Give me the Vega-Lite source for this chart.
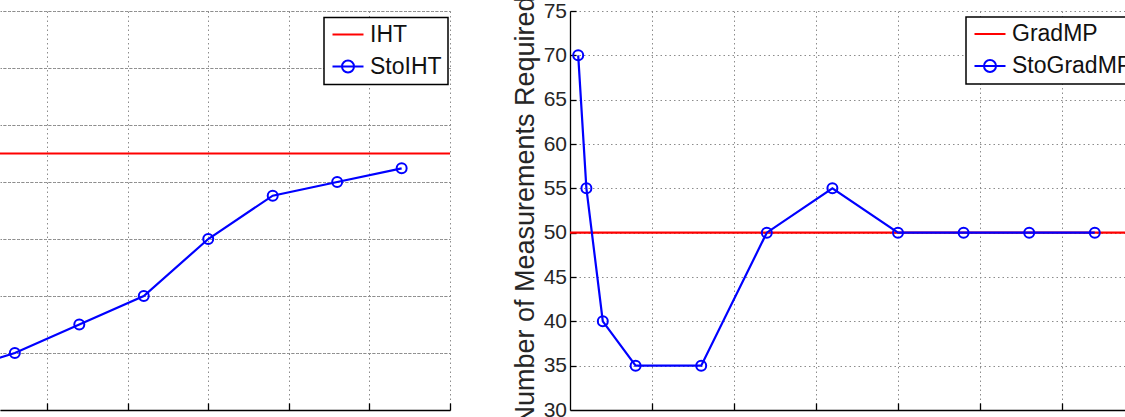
{
  "$schema": "https://vega.github.io/schema/vega-lite/v6.json",
  "padding": {"left": 0, "top": -5, "right": -20, "bottom": -7},
  "spacing": 60,
  "datasets": {
    "iht": [
      {"x": 0, "y": 325, "series": "IHT"},
      {"x": 70, "y": 325, "series": "IHT"}
    ],
    "stoiht": [
      {"x": 8, "y": 132, "series": "StoIHT"},
      {"x": 16, "y": 150, "series": "StoIHT"},
      {"x": 24, "y": 175, "series": "StoIHT"},
      {"x": 32, "y": 200, "series": "StoIHT"},
      {"x": 40, "y": 250, "series": "StoIHT"},
      {"x": 48, "y": 288, "series": "StoIHT"},
      {"x": 56, "y": 300, "series": "StoIHT"},
      {"x": 64, "y": 312, "series": "StoIHT"}
    ],
    "gradmp": [
      {"x": 0, "y": 50, "series": "GradMP"},
      {"x": 70, "y": 50, "series": "GradMP"}
    ],
    "stogradmp": [
      {"x": 1, "y": 70, "series": "StoGradMP"},
      {"x": 2, "y": 55, "series": "StoGradMP"},
      {"x": 4, "y": 40, "series": "StoGradMP"},
      {"x": 8, "y": 35, "series": "StoGradMP"},
      {"x": 16, "y": 35, "series": "StoGradMP"},
      {"x": 24, "y": 50, "series": "StoGradMP"},
      {"x": 32, "y": 55, "series": "StoGradMP"},
      {"x": 40, "y": 50, "series": "StoGradMP"},
      {"x": 48, "y": 50, "series": "StoGradMP"},
      {"x": 56, "y": 50, "series": "StoGradMP"},
      {"x": 64, "y": 50, "series": "StoGradMP"}
    ]
  },
  "resolve": {"scale": {"color": "independent", "x": "independent", "y": "independent"}, "legend": {"color": "independent"}},
  "config": {
    "view": {"stroke": null},
    "font": "Liberation Sans",
    "axis": {
      "gridColor": "#8c8c8c",
      "gridDash": [1.5, 3],
      "gridWidth": 1,
      "gridOpacity": 1,
      "domainColor": "#000000",
      "domainWidth": 1.3,
      "tickColor": "#000000",
      "tickWidth": 1.3,
      "labelFont": "Liberation Sans",
      "labelFontSize": 21,
      "labelColor": "#262626",
      "titleFont": "Liberation Sans",
      "titleFontWeight": "normal",
      "titleColor": "#262626"
    },
    "legend": {
      "orient": "none",
      "strokeColor": "#000000",
      "fillColor": "#ffffff",
      "padding": 5.5,
      "rowPadding": 8,
      "symbolSize": 400,
      "symbolStrokeWidth": 2,
      "symbolOffset": 7,
      "labelOffset": 10.5,
      "labelFont": "Liberation Sans",
      "labelFontSize": 23,
      "labelColor": "#111111",
      "labelLimit": 400
    }
  },
  "hconcat": [
    {
      "width": 450,
      "height": 399,
      "resolve": {"axis": {"x": "independent", "y": "independent"}},
      "encoding": {
        "y": {"field": "y", "type": "quantitative",
              "scale": {"domain": [100, 450], "nice": false, "zero": false},
              "axis": {"values": [100, 150, 200, 250, 300, 350, 400, 450], "labels": false, "ticks": false, "domain": false, "title": null, "grid": true}},
        "color": {"field": "series", "type": "nominal",
                  "scale": {"domain": ["IHT", "StoIHT"], "range": ["#ff0000", "#0000ff"]},
                  "legend": {"title": null, "legendX": 324, "legendY": 6.5,
                             "encode": {
                               "legend": {"update": {"strokeWidth": {"value": 1.5}}},
                               "symbols": {"update": {
                                 "shape": {"signal": "datum.value === 'IHT' ? 'M-1.55,0H1.55' : 'M-1.55,0H1.55M-0.6,0A0.6,0.6,0,1,1,0.6,0A0.6,0.6,0,1,1,-0.6,0'"},
                                 "fill": {"value": "transparent"},
                                 "strokeWidth": {"value": 2}
                               }}
                             }}}
      },
      "layer": [
        {"data": {"name": "iht"}, "mark": {"type": "line", "strokeWidth": 2.2, "clip": true},
         "encoding": {"x": {"field": "x", "type": "quantitative",
              "scale": {"domain": [14.16, 70], "nice": false, "zero": false},
              "axis": {"orient": "bottom", "values": [20, 30, 40, 50, 60, 70], "labels": false, "title": null, "ticks": false, "grid": true}}}},
        {"data": {"name": "stoiht"}, "mark": {"type": "line", "strokeWidth": 2.2, "clip": true},
         "encoding": {"x": {"field": "x", "type": "quantitative", "axis": null}}},
        {"data": {"name": "stoiht"}, "mark": {"type": "point", "filled": false, "size": 100, "strokeWidth": 2, "opacity": 1, "clip": true},
         "encoding": {"x": {"field": "x", "type": "quantitative",
              "axis": {"orient": "top", "offset": -399, "values": [20, 30, 40, 50, 60, 70], "labels": false, "title": null, "domain": false, "grid": false, "ticks": true, "tickSize": 7}}}}
      ]
    },
    {
      "width": 574,
      "height": 399,
      "resolve": {"axis": {"x": "independent", "y": "independent"}},
      "encoding": {
        "color": {"field": "series", "type": "nominal",
                  "scale": {"domain": ["GradMP", "StoGradMP"], "range": ["#ff0000", "#0000ff"]},
                  "legend": {"title": null, "legendX": 396, "legendY": 6,
                             "encode": {
                               "legend": {"update": {"strokeWidth": {"value": 1.5}}},
                               "symbols": {"update": {
                                 "shape": {"signal": "datum.value === 'GradMP' ? 'M-1.55,0H1.55' : 'M-1.55,0H1.55M-0.6,0A0.6,0.6,0,1,1,0.6,0A0.6,0.6,0,1,1,-0.6,0'"},
                                 "fill": {"value": "transparent"},
                                 "strokeWidth": {"value": 2}
                               }}
                             }}}
      },
      "layer": [
        {"data": {"name": "gradmp"}, "mark": {"type": "line", "strokeWidth": 2.2, "clip": true},
         "encoding": {
           "x": {"field": "x", "type": "quantitative",
                 "scale": {"domain": [0, 70], "nice": false, "zero": false},
                 "axis": {"orient": "bottom", "values": [0, 10, 20, 30, 40, 50, 60, 70], "labels": false, "title": null, "ticks": false, "grid": true}},
           "y": {"field": "y", "type": "quantitative",
                 "scale": {"domain": [30, 75], "nice": false, "zero": false},
                 "axis": {"orient": "left", "values": [30, 35, 40, 45, 50, 55, 60, 65, 70, 75], "ticks": false, "labelPadding": 3.5,
                          "title": "Number of Measurements Required", "titleFontSize": 27, "titlePadding": 4, "grid": true}}}},
        {"data": {"name": "stogradmp"}, "mark": {"type": "line", "strokeWidth": 2.2, "clip": true},
         "encoding": {
           "x": {"field": "x", "type": "quantitative", "axis": null},
           "y": {"field": "y", "type": "quantitative", "axis": null}}},
        {"data": {"name": "stogradmp"}, "mark": {"type": "point", "filled": false, "size": 100, "strokeWidth": 2, "opacity": 1, "clip": true},
         "encoding": {
           "x": {"field": "x", "type": "quantitative",
                 "axis": {"orient": "top", "offset": -399, "values": [10, 20, 30, 40, 50, 60, 70], "labels": false, "title": null, "domain": false, "grid": false, "ticks": true, "tickSize": 7}},
           "y": {"field": "y", "type": "quantitative",
                 "axis": {"orient": "right", "offset": -574, "values": [35, 40, 45, 50, 55, 60, 65, 70, 75], "labels": false, "title": null, "domain": false, "grid": false, "ticks": true, "tickSize": 6}}}}
      ]
    }
  ]
}
